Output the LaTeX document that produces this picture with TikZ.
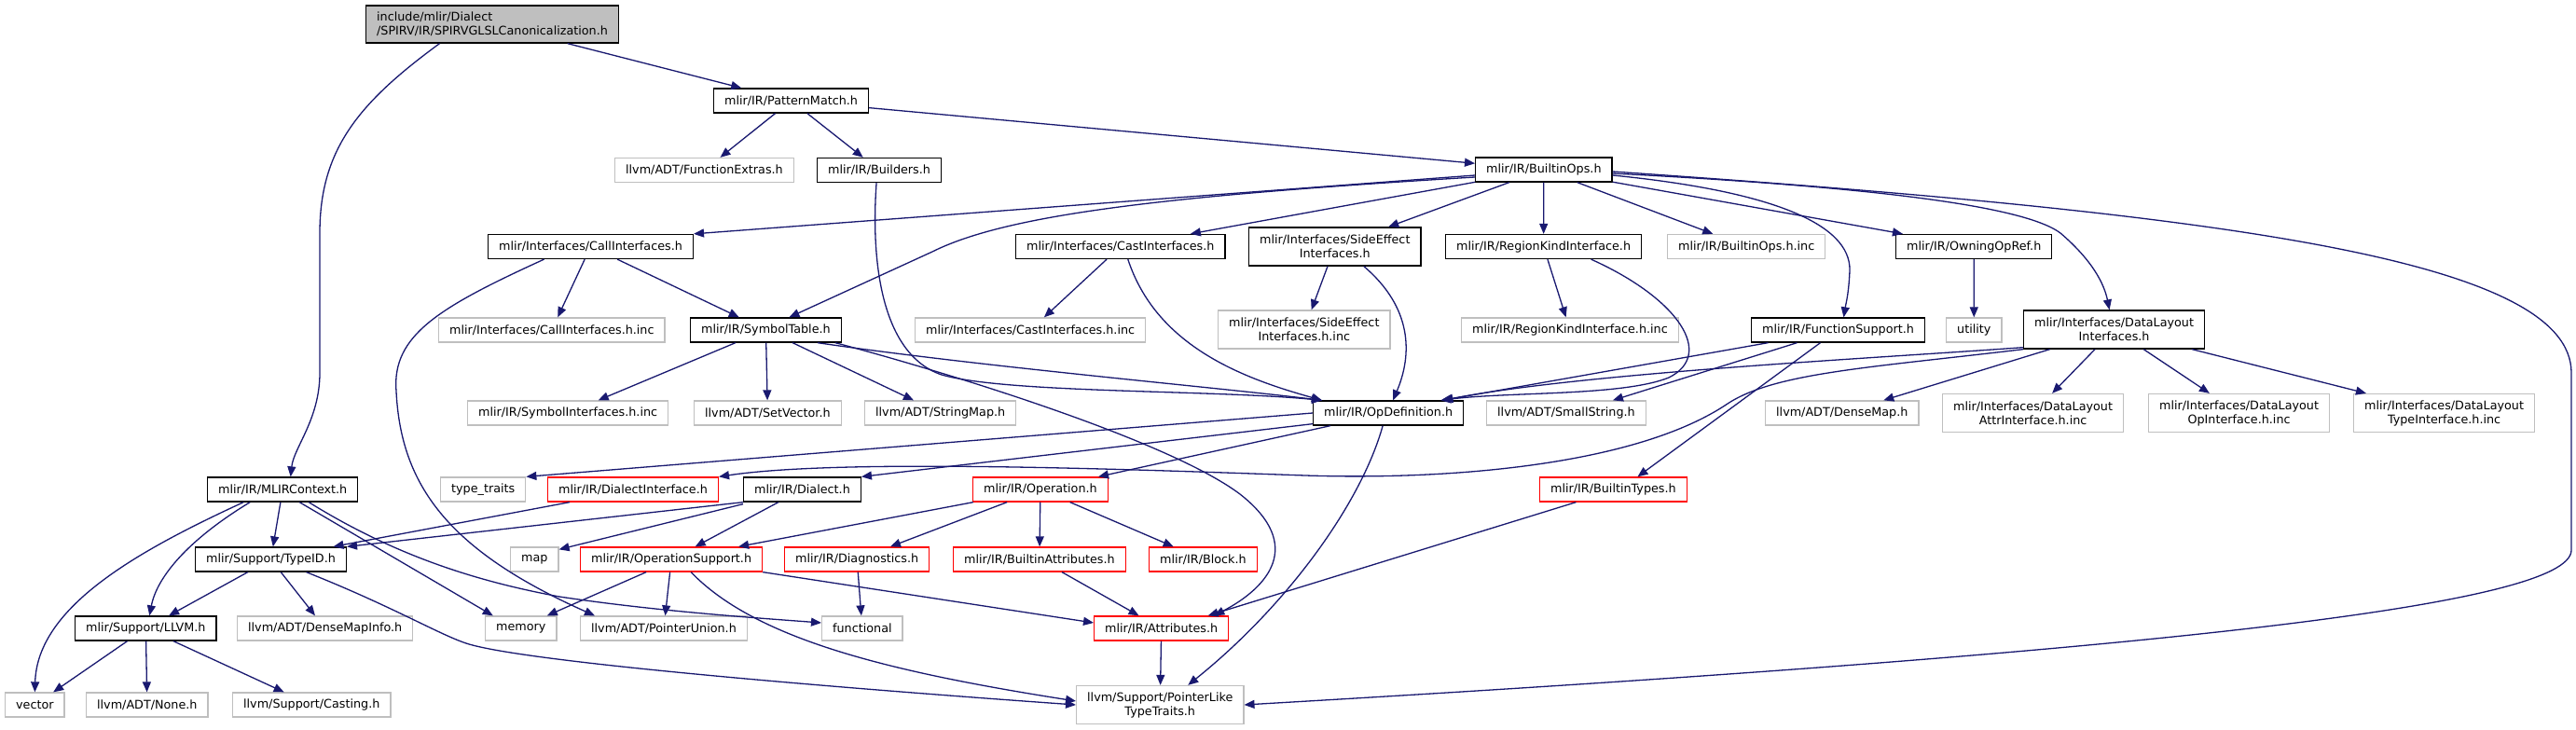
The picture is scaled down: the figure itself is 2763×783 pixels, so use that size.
\documentclass[tikz,border=0pt]{standalone}
\usepackage{fontspec}
\setmainfont{DejaVu Sans}
\usetikzlibrary{arrows.meta}
\definecolor{edgecol}{HTML}{191970}
\definecolor{graycol}{HTML}{BFBFBF}
\begin{document}
\begin{tikzpicture}[x=1pt,y=-1pt,
 base/.style={anchor=west, draw, line width=1.3pt, inner xsep=11.5pt, inner ysep=0pt, minimum height=26pt, font=\fontsize{12.75}{15}\selectfont, text=black},
 blk/.style={base, draw=black},
 gry/.style={base, draw=graycol},
 rd/.style={base, draw=red},
 two/.style={minimum height=41pt, align=center},
 edge/.style={draw=edgecol, line width=1.3pt, -{Triangle[length=11pt,width=9pt]}}
]
\fill[white] (0,0) rectangle (2763,783);
\useasboundingbox (0,0) rectangle (2763,783);

% nodes
\node[blk, fill=graycol, align=left, minimum height=40pt] (top) at (392,26) {include/mlir/Dialect\\/SPIRV/IR/SPIRVGLSLCanonicalization.h};
\node[blk] (pm) at (765,108) {mlir/IR/PatternMatch.h};
\node[gry] (fe) at (659,182.5) {llvm/ADT/FunctionExtras.h};
\node[blk] (bld) at (876,182.5) {mlir/IR/Builders.h};
\node[blk] (bops) at (1582,182) {mlir/IR/BuiltinOps.h};
\node[blk] (calli) at (523,264.5) {mlir/Interfaces/CallInterfaces.h};
\node[blk] (casti) at (1089,264.5) {mlir/Interfaces/CastInterfaces.h};
\node[blk,two] (side) at (1339,264.5) {mlir/Interfaces/SideEffect\\Interfaces.h};
\node[blk] (region) at (1550,264.5) {mlir/IR/RegionKindInterface.h};
\node[gry] (bopsinc) at (1788,264.5) {mlir/IR/BuiltinOps.h.inc};
\node[blk] (owning) at (2033,264.5) {mlir/IR/OwningOpRef.h};
\node[gry] (callinc) at (470,354) {mlir/Interfaces/CallInterfaces.h.inc};
\node[blk] (symt) at (740,354) {mlir/IR/SymbolTable.h};
\node[gry] (castinc) at (981,354) {mlir/Interfaces/CastInterfaces.h.inc};
\node[gry,two] (sideinc) at (1306,353.5) {mlir/Interfaces/SideEffect\\Interfaces.h.inc};
\node[gry] (regioninc) at (1567,354) {mlir/IR/RegionKindInterface.h.inc};
\node[blk] (funcs) at (1878,354) {mlir/IR/FunctionSupport.h};
\node[gry] (utility) at (2087,354) {utility};
\node[blk,two] (dl) at (2170,353.5) {mlir/Interfaces/DataLayout\\Interfaces.h};
\node[gry] (syminc) at (501,443) {mlir/IR/SymbolInterfaces.h.inc};
\node[gry] (setvec) at (744,443) {llvm/ADT/SetVector.h};
\node[gry] (strmap) at (927,443) {llvm/ADT/StringMap.h};
\node[blk] (opdef) at (1408,443) {mlir/IR/OpDefinition.h};
\node[gry] (smallstr) at (1594,443) {llvm/ADT/SmallString.h};
\node[gry] (densemap) at (1893,443) {llvm/ADT/DenseMap.h};
\node[gry,two] (dlattr) at (2083,443) {mlir/Interfaces/DataLayout\\AttrInterface.h.inc};
\node[gry,two] (dlop) at (2304,443) {mlir/Interfaces/DataLayout\\OpInterface.h.inc};
\node[gry,two] (dltype) at (2524,443) {mlir/Interfaces/DataLayout\\TypeInterface.h.inc};
\node[blk] (mlirctx) at (222,525) {mlir/IR/MLIRContext.h};
\node[gry] (typetraits) at (472,525) {type\_traits};
\node[rd] (dialif) at (587,525) {mlir/IR/DialectInterface.h};
\node[blk] (dialect) at (797,525) {mlir/IR/Dialect.h};
\node[rd] (operation) at (1043,525) {mlir/IR/Operation.h};
\node[rd] (btypes) at (1651,525) {mlir/IR/BuiltinTypes.h};
\node[blk] (typeid) at (209,600) {mlir/Support/TypeID.h};
\node[gry] (map) at (547,600) {map};
\node[rd] (opsupport) at (622,600) {mlir/IR/OperationSupport.h};
\node[rd] (diag) at (841,600) {mlir/IR/Diagnostics.h};
\node[rd] (battrs) at (1022,600) {mlir/IR/BuiltinAttributes.h};
\node[rd] (block) at (1232,600) {mlir/IR/Block.h};
\node[blk] (llvm) at (80,674) {mlir/Support/LLVM.h};
\node[gry] (dmi) at (254,674) {llvm/ADT/DenseMapInfo.h};
\node[gry] (memory) at (520,674) {memory};
\node[gry] (ptrunion) at (622,674) {llvm/ADT/PointerUnion.h};
\node[gry] (functional) at (881,674) {functional};
\node[rd] (attrs) at (1173,674) {mlir/IR/Attributes.h};
\node[gry] (vector) at (5,756) {vector};
\node[gry] (none) at (92,756) {llvm/ADT/None.h};
\node[gry] (casting) at (249,756) {llvm/Support/Casting.h};
\node[gry,two] (plt) at (1154,756) {llvm/Support/PointerLike\\TypeTraits.h};

% straight edges
\draw[edge] (top) -- (pm);
\draw[edge] (pm) -- (fe);
\draw[edge] (pm) -- (bld);
\draw[edge] (pm) -- (bops);
\draw[edge] ([yshift=-6]bops.west) -- (calli.north east);
\draw[edge] (bops) -- (casti);
\draw[edge] (bops) -- (side);
\draw[edge] (bops) -- (region);
\draw[edge] (bops) -- (bopsinc);
\draw[edge] (bops) -- (owning);
\draw[edge] (calli) -- (callinc);
\draw[edge] (calli) -- (symt);
\draw[edge] (symt) -- (syminc);
\draw[edge] (symt) -- (setvec);
\draw[edge] (symt) -- (strmap);
\draw[edge] (casti) -- (castinc);
\draw[edge] (side) -- (sideinc);
\draw[edge] (region) -- (regioninc);
\draw[edge] (owning) -- (utility);
\draw[edge] ([xshift=-75]funcs.south) -- ([xshift=-23]opdef.north east);
\draw[edge] ([xshift=-44]funcs.south) -- ([xshift=50]smallstr.north);
\draw[edge] ([xshift=-19]funcs.south) -- ([xshift=26]btypes.north);
\draw[edge] (dl) -- (densemap);
\draw[edge] (dl) -- (dlattr);
\draw[edge] (dl) -- (dlop);
\draw[edge] (dl) -- (dltype);
\draw[edge] (opdef.west) -- (typetraits.north east);
\draw[edge] ([yshift=2]opdef.south west) -- (dialect.north east);
\draw[edge] (opdef) -- (operation);
\draw[edge] (mlirctx) -- (typeid);
\draw[edge] ([xshift=18]mlirctx.south) -- ([xshift=-30]memory.north);
\draw[edge] (typeid) -- (llvm);
\draw[edge] (typeid) -- (dmi);
\draw[edge] ([xshift=-68]dialif.south) -- ([xshift=67]typeid.north);
\draw[edge] (dialect.south west) -- (typeid.north east);
\draw[edge] ([yshift=-2]dialect.south west) -- ([yshift=-3]map.north east);
\draw[edge] (dialect) -- (opsupport);
\draw[edge] (operation) -- (opsupport);
\draw[edge] (operation) -- (diag);
\draw[edge] (operation) -- (battrs);
\draw[edge] (operation) -- (block);
\draw[edge] ([xshift=-40]btypes.south) -- ([xshift=50]attrs.north);
\draw[edge] ([xshift=-27]opsupport.south) -- ([xshift=28]memory.north);
\draw[edge] (opsupport) -- (ptrunion);
\draw[edge] (opsupport.south east) -- ([yshift=6]attrs.west);
\draw[edge] (diag) -- (functional);
\draw[edge] (battrs) -- (attrs);
\draw[edge] (attrs) -- (plt);
\draw[edge] (llvm) -- (vector);
\draw[edge] (llvm) -- (none);
\draw[edge] (llvm) -- (casting);

% curved edges
\draw[edge] ([xshift=-56.5]top.south) .. controls (385,110) and (343,160) .. (343,250) -- (343,400) .. controls (343,450) and (315,480) .. ([xshift=8.5]mlirctx.north);
\draw[edge] ([xshift=-3]bld.south) .. controls (934,280) and (945,380) .. (1010,402) .. controls (1080,422) and (1300,418) .. ([xshift=10]opdef.north west);
\draw[edge] ([xshift=-7]symt.south east) .. controls (1000,395) and (1250,470) .. (1330,530) .. controls (1400,585) and (1360,630) .. ([xshift=-16]attrs.north east);
\draw[edge] ([xshift=-26]symt.south east) .. controls (1050,393) and (1300,415) .. ([xshift=10]opdef.north west);
\draw[edge] ([yshift=-8]bops.west) .. controls (1250,210) and (1080,230) .. (1000,270) -- ([xshift=25]symt.north);
\draw[edge] ([yshift=-6]bops.east) .. controls (1900,205) and (1985,240) .. (1984,290) .. controls (1983,315) and (1980,325) .. ([xshift=6]funcs.north);
\draw[edge] ([yshift=-4]bops.east) .. controls (2000,200) and (2170,220) .. (2210,250) .. controls (2245,280) and (2257,305) .. ([xshift=-5]dl.north);
\draw[edge] ([yshift=-2]bops.east) .. controls (2400,230) and (2758,280) .. (2758,400) -- (2758,590) .. controls (2758,650) and (2300,700) .. (plt.east);
\draw[edge] ([xshift=-50]calli.south) .. controls (470,330) and (420,360) .. (425,420) .. controls (430,520) and (480,590) .. ([xshift=16]ptrunion.north west);
\draw[edge] ([xshift=8]casti.south) .. controls (1240,370) and (1330,405) .. ([xshift=10]opdef.north west);
\draw[edge] ([xshift=31]side.south) .. controls (1515,330) and (1515,380) .. ([xshift=5]opdef.north);
\draw[edge] ([xshift=51]region.south) .. controls (1800,320) and (1840,380) .. (1790,405) .. controls (1740,425) and (1620,420) .. ([xshift=-25]opdef.north east);
\draw[edge] ([yshift=2]dl.south west) .. controls (2000,385) and (1700,400) .. ([xshift=-23]opdef.north east);
\draw[edge] (dl.south west) .. controls (2000,395) and (1900,400) .. (1850,435) .. controls (1750,500) and (1550,515) .. (1400,510) .. controls (1200,503) and (900,492) .. (dialif.north east);
\draw[edge] ([xshift=-6]opdef.south) .. controls (1460,540) and (1380,650) .. ([xshift=30]plt.north);
\draw[edge] ([xshift=-42]mlirctx.south) .. controls (150,590) and (40,650) .. (vector.north);
\draw[edge] ([xshift=-35]mlirctx.south) .. controls (200,580) and (168,620) .. ([xshift=4]llvm.north);
\draw[edge] ([xshift=28]mlirctx.south) .. controls (430,600) and (520,625) .. (600,640) .. controls (700,655) and (800,662) .. ([yshift=6]functional.west);
\draw[edge] ([xshift=38]typeid.south) .. controls (420,650) and (470,680) .. (500,690) .. controls (560,710) and (900,738) .. (plt.west);
\draw[edge] ([xshift=21]opsupport.south) .. controls (810,685) and (950,720) .. ([yshift=4]plt.west);
\end{tikzpicture}
\end{document}
